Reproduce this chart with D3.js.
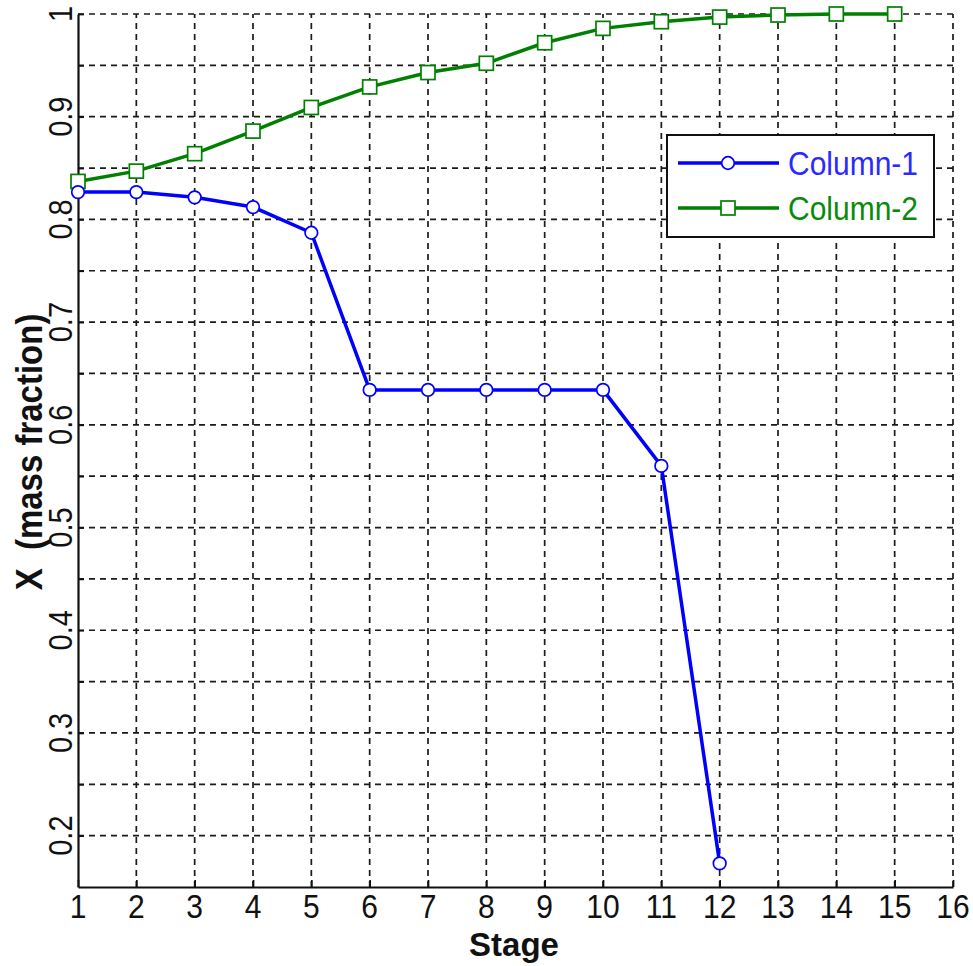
<!DOCTYPE html>
<html>
<head>
<meta charset="utf-8">
<script src="https://cdn.jsdelivr.net/npm/d3@7"></script>
<style>
  html, body { margin: 0; padding: 0; background: #fff; }
  svg { display: block; font-family: Arial, "Liberation Sans", sans-serif; }
</style>
</head>
<body>
<svg id="chart" width="973" height="966"></svg>
<script>
// ---- data ----
const stages = [1, 2, 3, 4, 5, 6, 7, 8, 9, 10, 11, 12, 13, 14, 15];
const column1 = [0.8266, 0.8266, 0.8215, 0.812, 0.787, 0.634, 0.634, 0.634, 0.634, 0.634, 0.560, 0.173];
const column2 = [0.837, 0.847, 0.864, 0.886, 0.909, 0.929, 0.943, 0.952, 0.972, 0.986, 0.9925, 0.997, 0.999, 1.0, 1.0];
const seriesNames = ["Column-1", "Column-2"];
const xTickValues = [1, 2, 3, 4, 5, 6, 7, 8, 9, 10, 11, 12, 13, 14, 15, 16];
const yTickLabels = ["0.2", "0.3", "0.4", "0.5", "0.6", "0.7", "0.8", "0.9", "1"];
const yGridValues = [0.2, 0.25, 0.3, 0.35, 0.4, 0.45, 0.5, 0.55, 0.6, 0.65, 0.7, 0.75, 0.8, 0.85, 0.9, 0.95, 1.0];
const xLabel = "Stage";
const yLabel = "X  (mass fraction)";

const svg = d3.select("#chart");
const L = 78, R = 953, T = 14, B = 887;
const x = d3.scaleLinear().domain([1, 16]).range([L, R]);
const y = d3.scaleLinear().domain([0.15, 1]).range([B, T]);

const blue = "#0000ff", green = "#008000";
const textCol = "#111";

// grid
const grid = svg.append("g").attr("stroke", "#1a1a1a").attr("stroke-width", 1.7)
  .attr("stroke-dasharray", "6,5").attr("fill", "none");
grid.selectAll("line.v").data(xTickValues.slice(1)).enter().append("line")
  .attr("x1", d => x(d)).attr("x2", d => x(d)).attr("y1", B).attr("y2", T);
grid.selectAll("line.h").data(yGridValues).enter().append("line")
  .attr("x1", L).attr("x2", R).attr("y1", d => y(d)).attr("y2", d => y(d));

// axes (ticks inward, labels drawn separately)
const xAxis = d3.axisBottom(x).tickValues(xTickValues).tickSizeInner(-7).tickSizeOuter(0)
  .tickFormat(() => "");
const gx = svg.append("g").attr("transform", `translate(0,${B})`).call(xAxis);
gx.select(".domain").attr("stroke", textCol).attr("stroke-width", 2.2);
gx.selectAll(".tick line").attr("stroke", textCol).attr("stroke-width", 1.7);

const yAxis = d3.axisLeft(y).tickValues(yGridValues).tickSizeInner(-6).tickSizeOuter(0)
  .tickFormat(() => "");
const gy = svg.append("g").attr("transform", `translate(${L},0)`).call(yAxis);
gy.select(".domain").attr("stroke", textCol).attr("stroke-width", 2.2);
gy.selectAll(".tick line").attr("stroke", textCol).attr("stroke-width", 1.7);

// x tick labels
svg.append("g").selectAll("text").data(xTickValues).enter().append("text")
  .attr("transform", d => `translate(${x(d)},918) scale(1,1.1)`)
  .attr("text-anchor", "middle").attr("font-size", 30).attr("fill", textCol)
  .text(d => d);

// rotated y tick labels
svg.append("g").selectAll("text").data(yTickLabels).enter().append("text")
  .attr("transform", d => `translate(72,${y(+d)}) rotate(-90) scale(1,1.15)`)
  .attr("text-anchor", "middle")
  .attr("font-size", 29).attr("fill", textCol)
  .text(d => d);

// axis labels
svg.append("text").attr("x", 514).attr("y", 956).attr("text-anchor", "middle")
  .attr("font-size", 33).attr("font-weight", "bold").attr("fill", textCol).text(xLabel);
svg.append("text").attr("transform", `translate(42,452) rotate(-90) scale(1,1.12)`).attr("text-anchor", "middle")
  .attr("font-size", 33).attr("font-weight", "bold").attr("fill", textCol)
  .style("white-space", "pre").text(yLabel);

// lines
const line = d3.line().x((d, i) => x(stages[i])).y(d => y(d));
svg.append("path").datum(column2).attr("d", line).attr("fill", "none")
  .attr("stroke", green).attr("stroke-width", 3.5).attr("stroke-linejoin", "round");
svg.append("path").datum(column1).attr("d", line).attr("fill", "none")
  .attr("stroke", blue).attr("stroke-width", 3.5).attr("stroke-linejoin", "round");

svg.append("g").selectAll("rect").data(column2).enter().append("rect")
  .attr("x", (d, i) => x(stages[i]) - 7).attr("y", d => y(d) - 7)
  .attr("width", 14).attr("height", 14)
  .attr("fill", "#fff").attr("stroke", green).attr("stroke-width", 1.7);
svg.append("g").selectAll("circle").data(column1).enter().append("circle")
  .attr("cx", (d, i) => x(stages[i])).attr("cy", d => y(d)).attr("r", 6.3)
  .attr("fill", "#fff").attr("stroke", blue).attr("stroke-width", 1.7);

// legend
const lg = svg.append("g");
lg.append("rect").attr("x", 667).attr("y", 135).attr("width", 267).attr("height", 102)
  .attr("fill", "#fff").attr("stroke", textCol).attr("stroke-width", 2);
const rows = [163, 208];
const cols = [blue, green];
seriesNames.forEach((name, i) => {
  lg.append("line").attr("x1", 678).attr("x2", 779).attr("y1", rows[i]).attr("y2", rows[i])
    .attr("stroke", cols[i]).attr("stroke-width", 3.5);
  if (i === 0) {
    lg.append("circle").attr("cx", 728).attr("cy", rows[i]).attr("r", 6.3)
      .attr("fill", "#fff").attr("stroke", blue).attr("stroke-width", 1.7);
  } else {
    lg.append("rect").attr("x", 721).attr("y", rows[i] - 7).attr("width", 14).attr("height", 14)
      .attr("fill", "#fff").attr("stroke", green).attr("stroke-width", 1.7);
  }
  lg.append("text").attr("transform", `translate(788,${rows[i] + 12}) scale(1,1.1)`).attr("font-size", 30)
    .attr("fill", i === 0 ? "#2a2aff" : "#0a8a0a").text(name);
});
</script>
</body>
</html>
